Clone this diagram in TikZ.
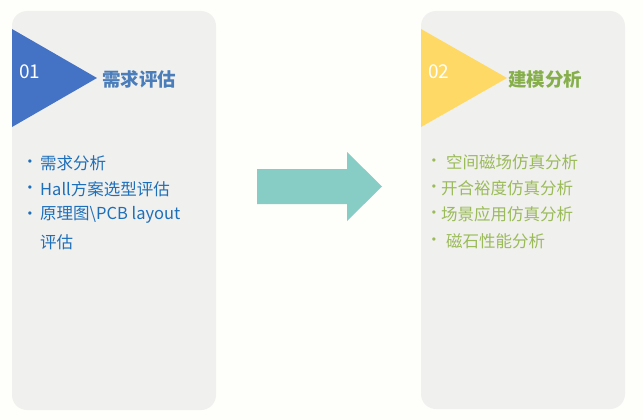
\documentclass[tikz,border=0pt]{standalone}
\usepackage{fontspec}
\setmainfont{Noto Sans CJK SC}
\newfontfamily\bulletfont{Liberation Sans}
\definecolor{bgc}{HTML}{FEFEFA}
\definecolor{panelc}{HTML}{F0F0EE}
\definecolor{tribl}{HTML}{4472C4}
\definecolor{triyl}{HTML}{FFD966}
\definecolor{titbl}{HTML}{4A7DBA}
\definecolor{txtbl}{HTML}{1E6FBA}
\definecolor{titgr}{HTML}{86AF4C}
\definecolor{txtgr}{HTML}{9BBB59}
\definecolor{arrc}{HTML}{88CDC5}
\tikzset{
  panel/.style={fill=panelc, draw=none, rounded corners=15pt},
  numtxt/.style={anchor=west, text=white, font=\fontsize{19}{22}\selectfont, inner sep=0pt},
  titletxt/.style={anchor=west, font=\fontsize{18.5}{21}\selectfont\bfseries, inner sep=0pt},
  itemtxt/.style={anchor=west, font=\fontsize{16.5}{19}\selectfont, inner sep=0pt},
  bul/.style={anchor=center, font=\bulletfont\fontsize{12}{14}\selectfont, inner sep=0pt},
}
\begin{document}
\begin{tikzpicture}[x=1pt,y=-1pt]
\fill[bgc] (0,0) rectangle (643,420);
\useasboundingbox (0,0) rectangle (643,420);
% panels
\path[panel] (12,11) rectangle (216,410);
\path[panel] (421,11) rectangle (625,409);
% triangles
\fill[tribl] (12,29) -- (97,78) -- (12,127) -- cycle;
\fill[triyl] (421,29) -- (507,78) -- (421,127) -- cycle;
% arrow
\fill[arrc] (257,169) -- (347,169) -- (347,152) -- (382,186.5) -- (347,221) -- (347,204) -- (257,204) -- cycle;
% left panel text
\node[numtxt] (n1) at (19,72) {01};
\node[titletxt, text=titbl] (t1) at (102,79) {需求评估};
\node[bul, text=txtbl] (b11) at (30,163) {•};
\node[itemtxt, text=txtbl] (i11) at (40,163) {需求分析};
\node[bul, text=txtbl] (b12) at (30,189) {•};
\node[itemtxt, text=txtbl] (i12) at (40,189) {Hall方案选型评估};
\node[bul, text=txtbl] (b13) at (30,215) {•};
\node[itemtxt, text=txtbl] (i13) at (40,215) {原理图\textbackslash PCB layout};
\node[itemtxt, text=txtbl] (i14) at (40,242) {评估};
% right panel text
\node[numtxt] (n2) at (428,72) {02};
\node[titletxt, text=titgr] (t2) at (508,79) {建模分析};
\node[bul, text=txtgr] (b21) at (434,162) {•};
\node[itemtxt, text=txtgr] (i21) at (446,162) {空间磁场仿真分析};
\node[bul, text=txtgr] (b22) at (434,188) {•};
\node[itemtxt, text=txtgr] (i22) at (441,188) {开合裕度仿真分析};
\node[bul, text=txtgr] (b23) at (434,214) {•};
\node[itemtxt, text=txtgr] (i23) at (441,214) {场景应用仿真分析};
\node[bul, text=txtgr] (b24) at (434,241) {•};
\node[itemtxt, text=txtgr] (i24) at (446,241) {磁石性能分析};
\end{tikzpicture}
\end{document}
